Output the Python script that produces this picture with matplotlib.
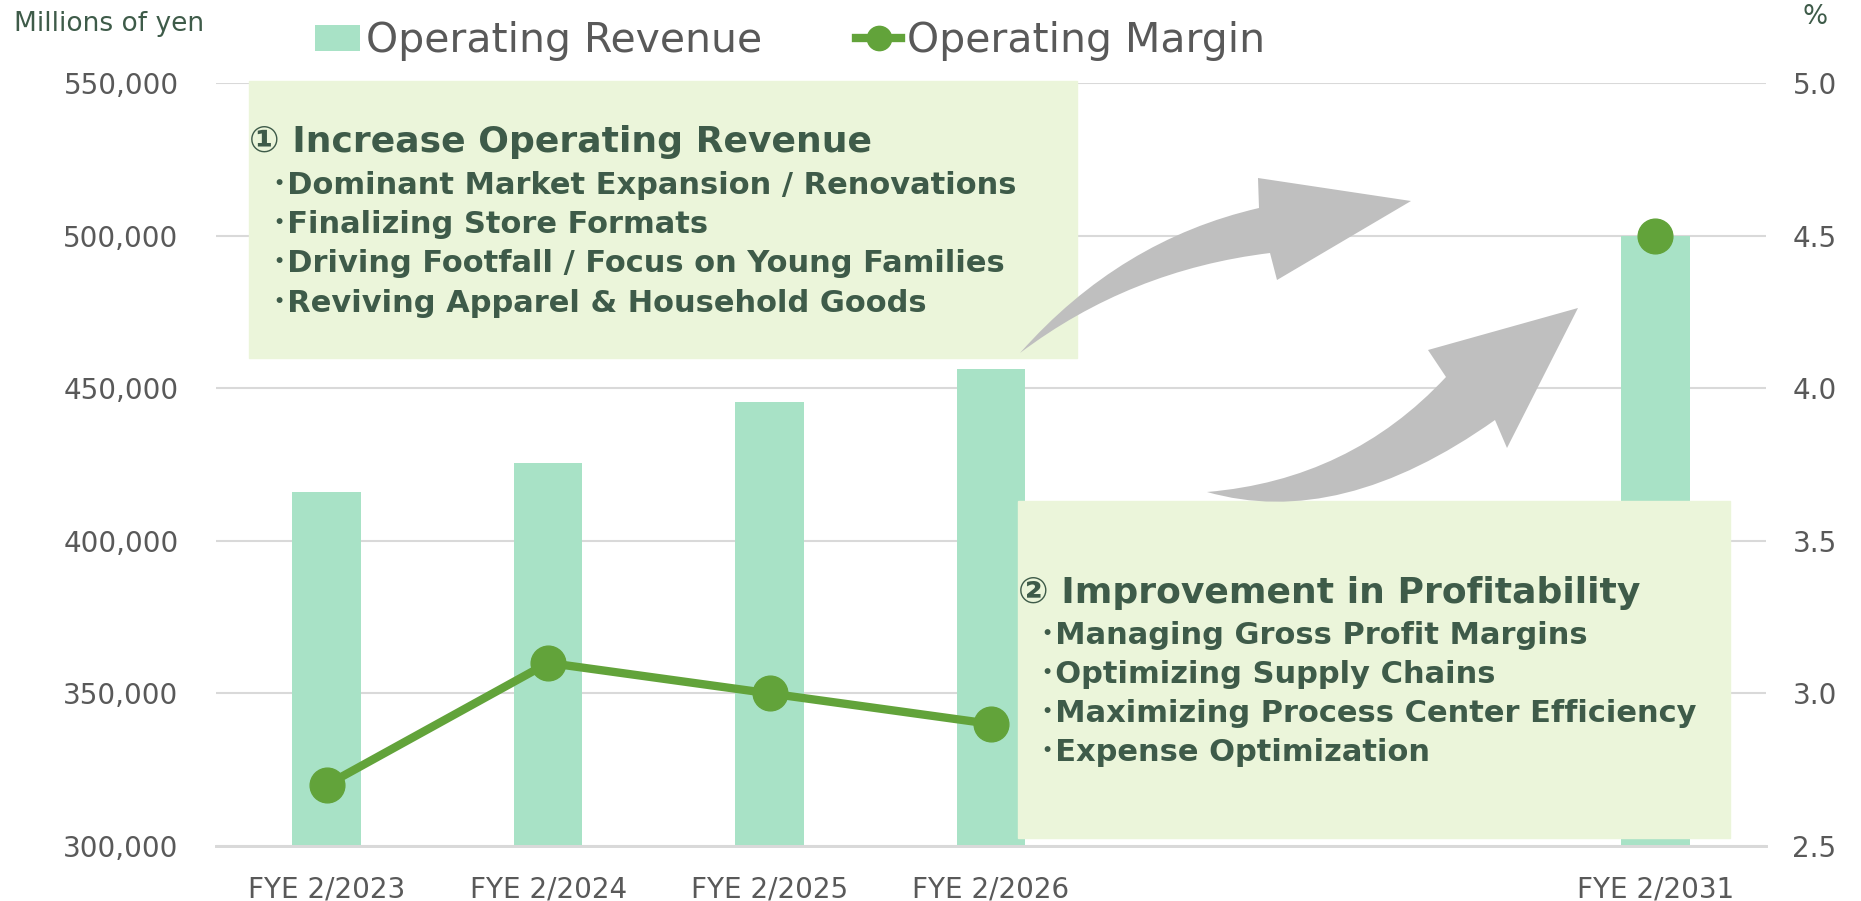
import numpy as np
import matplotlib
matplotlib.use('Agg')
import matplotlib.pyplot as plt
from matplotlib.path import Path
from matplotlib.patches import PathPatch, Rectangle

# Data (blank slots keep the gap before FYE 2/2031)
years = ['FYE 2/2023', 'FYE 2/2024', 'FYE 2/2025', 'FYE 2/2026', '', '', 'FYE 2/2031']
revenue = [415900, 425600, 445400, 456300, np.nan, np.nan, 500000]
margin = [2.7, 3.1, 3.0, 2.9, np.nan, np.nan, 4.5]

box1_title = '① Increase Operating Revenue'
box1_items = ['Dominant Market Expansion / Renovations',
              'Finalizing Store Formats',
              'Driving Footfall / Focus on Young Families',
              'Reviving Apparel & Household Goods']
box2_title = '② Improvement in Profitability'
box2_items = ['Managing Gross Profit Margins',
              'Optimizing Supply Chains',
              'Maximizing Process Center Efficiency',
              'Expense Optimization']

bar_color = '#A8E2C6'
line_color = '#62A33A'
tick_color = '#595959'
dark_green = '#3E5B49'
box_fill = '#EBF5DA'
arrow_color = '#BFBFBF'
fonts = ['DejaVu Sans', 'Noto Sans CJK JP']

W, H = 1861, 901
fig = plt.figure(figsize=(W / 100, H / 100), dpi=100)
ax = fig.add_axes([216 / W, 1 - 846 / H, (1766 - 216) / W, (846 - 83) / H])
ax2 = ax.twinx()

x = np.arange(len(years))
rev = np.array(revenue, dtype=float)
has = ~np.isnan(rev)
bars = ax.bar(x[has], rev[has], width=0.31, color=bar_color, zorder=2,
              label='Operating Revenue')
line, = ax2.plot(x, margin, color=line_color, lw=6, marker='o', markersize=25,
                 zorder=3, label='Operating Margin')

ax.set_xlim(-0.5, len(years) - 0.5)
ax.set_ylim(300000, 550000)
ax.set_yticks(np.arange(300000, 550001, 50000))
ax.yaxis.set_major_formatter(matplotlib.ticker.FuncFormatter(lambda v, p: f'{v:,.0f}'))
ax2.set_ylim(2.5, 5.0)
ax2.set_yticks(np.arange(2.5, 5.01, 0.5))
ax2.yaxis.set_major_formatter(matplotlib.ticker.FormatStrFormatter('%.1f'))

ax.set_xticks(x)
ax.set_xticklabels(years)
ax.grid(axis='y', color='#D9D9D9', lw=1.5, zorder=0)
ax.set_axisbelow(True)
for a in (ax, ax2):
    for s in ('top', 'right', 'left'):
        a.spines[s].set_visible(False)
    a.spines['bottom'].set_color('#D9D9D9')
    a.spines['bottom'].set_linewidth(2)
ax.tick_params(axis='y', length=0, pad=27, labelsize=20, labelcolor=tick_color)
ax.tick_params(axis='x', length=0, pad=21, labelsize=20, labelcolor=tick_color)
ax2.tick_params(axis='y', length=0, pad=19, labelsize=20, labelcolor=tick_color)

fig.text(14 / W, 1 - 24 / H, 'Millions of yen', fontsize=19, color=dark_green,
         ha='left', va='center')
fig.text(1802 / W, 1 - 17 / H, '%', fontsize=19, color=dark_green,
         ha='left', va='center')

fig.legend(handles=[bars, line], loc='center', bbox_to_anchor=(790 / W, 1 - 41 / H),
           ncol=2, frameon=False, fontsize=29.5, labelcolor=tick_color,
           handlelength=1.1, handleheight=0.6, handletextpad=0.15, columnspacing=2.3,
           markerscale=0.7)


def px(xp, yp):
    return (xp / W, 1 - yp / H)


# text boxes
fig.patches.append(Rectangle(px(249, 358), (1077 - 249) / W, (358 - 81) / H,
                             transform=fig.transFigure, color=box_fill, zorder=1))
fig.patches.append(Rectangle(px(1018, 838), (1730 - 1018) / W, (838 - 501) / H,
                             transform=fig.transFigure, color=box_fill, zorder=1))

fig.text(*px(249, 142), box1_title, fontsize=26, fontweight='bold', color=dark_green,
         family=fonts, ha='left', va='center', zorder=4)
for i, item in enumerate(box1_items):
    fig.text(*px(272, 185 + i * 39.5), '･' + item, fontsize=22, fontweight='bold',
             color=dark_green, family=fonts, ha='left', va='center', zorder=4)

fig.text(*px(1018, 593), box2_title, fontsize=26, fontweight='bold', color=dark_green,
         family=fonts, ha='left', va='center', zorder=4)
for i, item in enumerate(box2_items):
    fig.text(*px(1040, 635 + i * 39.3), '･' + item, fontsize=22, fontweight='bold',
             color=dark_green, family=fonts, ha='left', va='center', zorder=4)

# curved arrows
M, L, C, Z = Path.MOVETO, Path.LINETO, Path.CURVE3, Path.CLOSEPOLY
arrow1 = [(1020, 353), (1120, 240), (1259, 208), (1258, 178), (1411, 201),
          (1277, 280), (1270, 253), (1130, 270), (1020, 353), (1020, 353)]
arrow2 = [(1207, 492), (1340, 530), (1495, 420), (1507, 448), (1578, 308),
          (1428, 350), (1446, 377), (1350, 480), (1207, 492), (1207, 492)]
codes = [M, C, C, L, L, L, L, C, C, Z]
for pts in (arrow1, arrow2):
    path = Path([px(a, b) for a, b in pts], codes)
    fig.patches.append(PathPatch(path, transform=fig.transFigure, facecolor=arrow_color,
                                 edgecolor='none', zorder=2))

fig.savefig('out.png', dpi=100)
